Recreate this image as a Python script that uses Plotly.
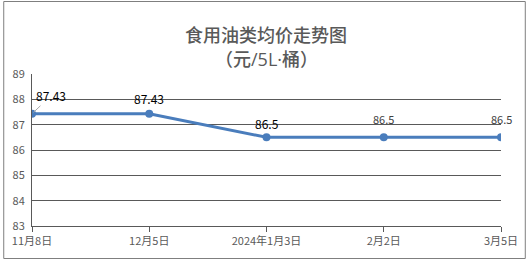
import plotly.graph_objects as go

categories = ["11月8日", "12月5日", "2024年1月3日", "2月2日", "3月5日"]
prices = [87.43, 87.43, 86.5, 86.5, 86.5]
y_ticks = [83, 84, 85, 86, 87, 88, 89]

FONT = "Noto Sans CJK SC"
LATIN = "Open Sans, Noto Sans CJK SC"
fig = go.Figure()
fig.add_trace(go.Scatter(
    x=categories, y=prices, mode="lines+markers",
    line=dict(color="#4a7dbc", width=3),
    marker=dict(color="#4a7dbc", size=8),
    hoverinfo="skip", showlegend=False,
))

# data labels
label_styles = [
    dict(ax=19, ay=-18, showarrow=True, font=dict(size=12, color="#000000")),
    dict(ax=0, ay=-15, showarrow=False, yshift=15, font=dict(size=12, color="#000000")),
    dict(ax=0, ay=-14, showarrow=False, yshift=14, font=dict(size=12, color="#000000")),
    dict(ax=0, ay=-18, showarrow=False, yshift=18, font=dict(size=11, color="#404040")),
    dict(ax=0, ay=-18, showarrow=False, yshift=18, font=dict(size=11, color="#404040")),
]
for c, v, st in zip(categories, prices, label_styles):
    a = dict(x=c, y=v, xref="x", yref="y", text=f"{v:g}",
             arrowhead=0, arrowwidth=1, arrowcolor="#a6a6a6", standoff=2)
    st = dict(st)
    st["font"] = dict(family=FONT, **st["font"])
    if not st["showarrow"]:
        st.pop("ax"); st.pop("ay")
    a.update(st)
    fig.add_annotation(**a)

W, H = 530, 260
ml, mr, mt, mb = 30, 27, 74, 34
pw, ph = W - ml - mr, H - mt - mb

def px(x):
    return (x - ml) / pw

def py(y):
    return (H - mb - y) / ph

fig.add_shape(type="rect", xref="paper", yref="paper",
              x0=px(1.5), x1=px(527.5), y0=py(258.5), y1=py(1.5),
              line=dict(color="#7f7f7f", width=1), layer="below")

fig.add_annotation(xref="paper", yref="paper", x=px(266), y=py(19),
                   text="食用油类均价走势图", showarrow=False,
                   font=dict(family=FONT, size=18, color="#595959", weight=500))
fig.add_annotation(xref="paper", yref="paper", x=px(266), y=py(45),
                   text="（元/5L·桶）", showarrow=False,
                   font=dict(family=LATIN, size=18, color="#595959", weight=500))

fig.update_layout(
    width=W, height=H,
    margin=dict(l=ml, r=mr, t=mt, b=mb),
    paper_bgcolor="white", plot_bgcolor="white",
    font=dict(family=FONT, size=11, color="#595959"),
)
fig.update_xaxes(
    type="category", range=[0, len(categories) - 1],
    showline=True, linecolor="#595959", linewidth=1,
    ticks="outside", ticklen=5, tickcolor="#595959",
    showgrid=False, tickfont=dict(size=11, color="#595959"),
)
fig.update_yaxes(
    range=[83, 89], tickvals=y_ticks, ticktext=[str(t) for t in y_ticks],
    showline=True, linecolor="#595959", linewidth=1,
    showgrid=True, gridcolor="#595959", gridwidth=1,
    zeroline=False, ticks="", ticklabelstandoff=4,
    tickfont=dict(size=11, color="#595959"),
)

fig.write_html("out.html")
